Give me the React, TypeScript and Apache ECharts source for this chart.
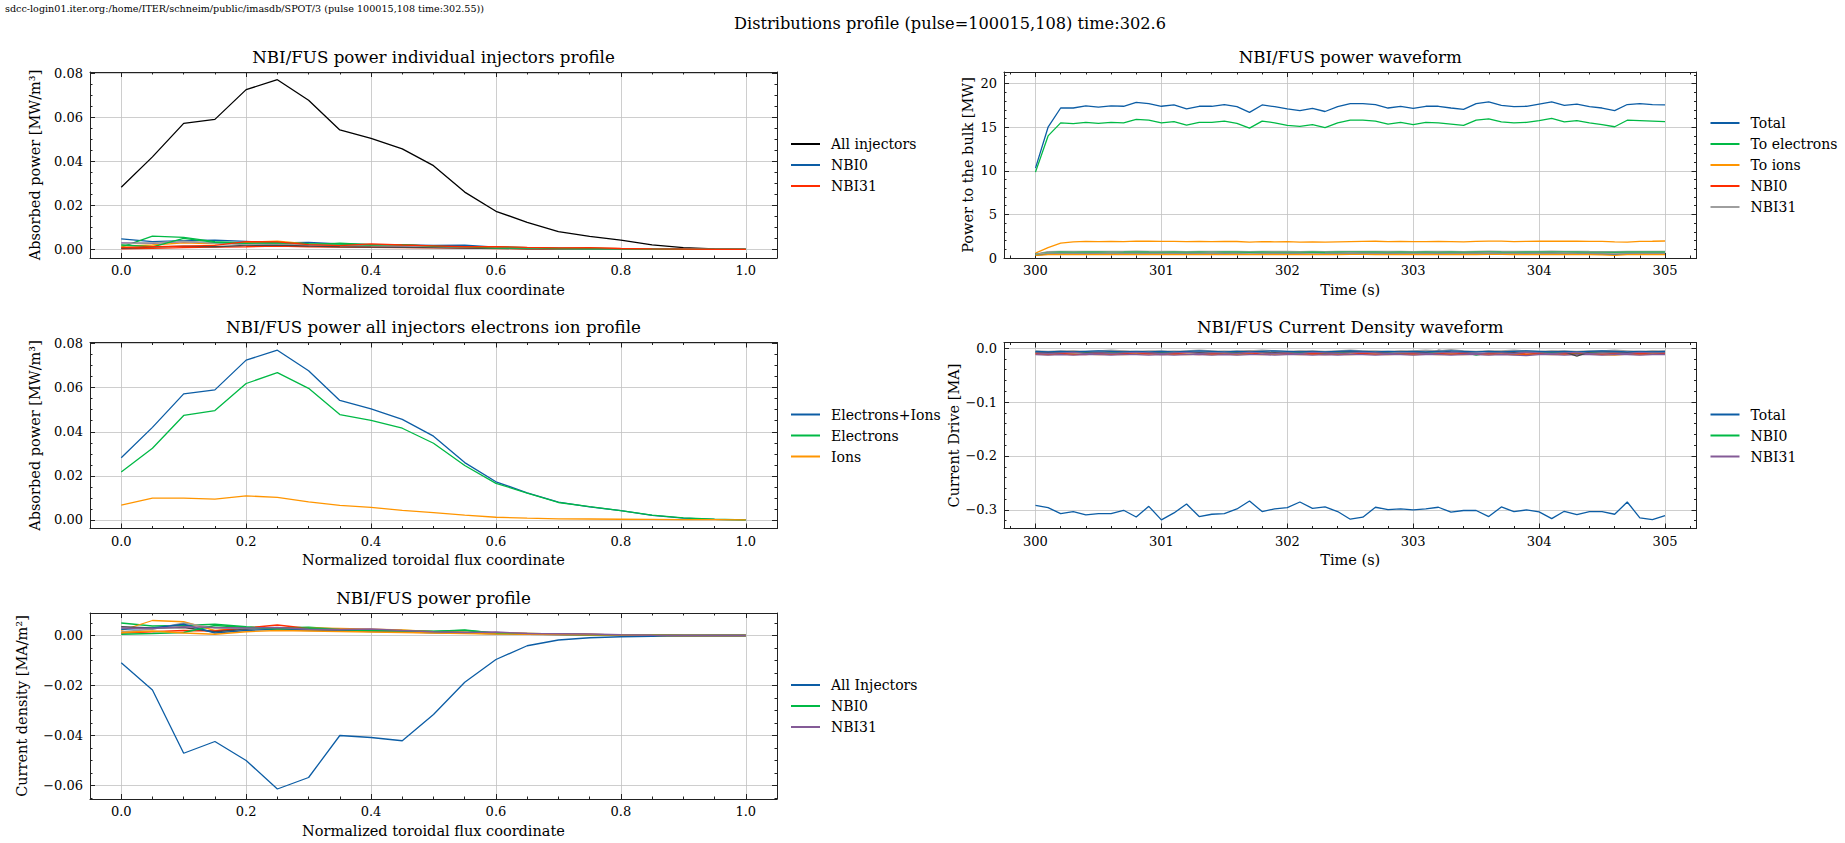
import React, { useEffect, useRef } from "react";
import * as echarts from "echarts";

const FONT = "DejaVu Serif";
const C = ["#0C5DA5", "#00B945", "#FF9500", "#FF2C00", "#845B97", "#474747", "#9e9e9e"];

// ---------- categories / coordinates ----------
const rho = [0, 0.05, 0.1, 0.15, 0.2, 0.25, 0.3, 0.35, 0.4, 0.45, 0.5, 0.55, 0.6, 0.65, 0.7, 0.75, 0.8, 0.85, 0.9, 0.95, 1.0];
const time = [
  300.0, 300.1, 300.2, 300.3, 300.4, 300.5, 300.6, 300.7, 300.8, 300.9,
  301.0, 301.1, 301.2, 301.3, 301.4, 301.5, 301.6, 301.7, 301.8, 301.9,
  302.0, 302.1, 302.2, 302.3, 302.4, 302.5, 302.6, 302.7, 302.8, 302.9,
  303.0, 303.1, 303.2, 303.3, 303.4, 303.5, 303.6, 303.7, 303.8, 303.9,
  304.0, 304.1, 304.2, 304.3, 304.4, 304.5, 304.6, 304.7, 304.8, 304.9,
  305.0,
];

// ---------- profiles (vs rho) ----------
const allInjPower = [0.0282, 0.0420, 0.0572, 0.0590, 0.0725, 0.0770, 0.0677, 0.0542, 0.0504, 0.0456, 0.0380, 0.0260, 0.0173, 0.0123, 0.0081, 0.0059, 0.0042, 0.0021, 0.0008, 0.0002, 0.0000];
const electronsPower = [0.0217, 0.0325, 0.0474, 0.0496, 0.0619, 0.0668, 0.0597, 0.0478, 0.0452, 0.0416, 0.0348, 0.0247, 0.0166, 0.0122, 0.0079, 0.0060, 0.0042, 0.0022, 0.0009, 0.0003, 0.0000];
const ionsPower = [0.0067, 0.0099, 0.0099, 0.0094, 0.0109, 0.0102, 0.0082, 0.0066, 0.0057, 0.0043, 0.0033, 0.0022, 0.0012, 0.0008, 0.0005, 0.0004, 0.0003, 0.0002, 0.0001, 0.0001, 0.0000];
const allInjCurrent = [-0.0109, -0.0218, -0.0471, -0.0424, -0.0500, -0.0614, -0.0568, -0.0400, -0.0408, -0.0421, -0.0316, -0.0187, -0.0096, -0.0041, -0.0018, -0.0009, -0.0005, -0.0003, -0.0001, 0.0000, 0.0000];

// individual injectors, absorbed power profile
const pInj0 = [0.0048, 0.0035, 0.0040, 0.0042, 0.0036, 0.0030, 0.0032, 0.0025, 0.0022, 0.0021, 0.0018, 0.0019, 0.0010, 0.0008, 0.0005, 0.0004, 0.0003, 0.0002, 0.0001, 0.0000, 0.0000];
const pInj1 = [0.0010, 0.0060, 0.0055, 0.0035, 0.0030, 0.0028, 0.0020, 0.0028, 0.0022, 0.0020, 0.0015, 0.0010, 0.0012, 0.0008, 0.0006, 0.0004, 0.0002, 0.0001, 0.0001, 0.0000, 0.0000];
const pInj2 = [0.0015, 0.0020, 0.0030, 0.0025, 0.0032, 0.0038, 0.0025, 0.0018, 0.0015, 0.0012, 0.0010, 0.0008, 0.0006, 0.0004, 0.0003, 0.0006, 0.0003, 0.0001, 0.0000, 0.0000, 0.0000];
const pInj3 = [0.0002, 0.0005, 0.0008, 0.0010, 0.0012, 0.0015, 0.0012, 0.0010, 0.0009, 0.0008, 0.0007, 0.0006, 0.0004, 0.0003, 0.0002, 0.0002, 0.0001, 0.0001, 0.0000, 0.0000, 0.0000];
const pInj4 = [0.0030, 0.0028, 0.0035, 0.0030, 0.0025, 0.0022, 0.0020, 0.0018, 0.0016, 0.0014, 0.0012, 0.0010, 0.0007, 0.0005, 0.0004, 0.0003, 0.0002, 0.0001, 0.0001, 0.0000, 0.0000];
const pInj5 = [0.0005, 0.0010, 0.0015, 0.0012, 0.0018, 0.0020, 0.0015, 0.0012, 0.0010, 0.0009, 0.0008, 0.0006, 0.0005, 0.0003, 0.0002, 0.0002, 0.0001, 0.0001, 0.0000, 0.0000, 0.0000];
const pInj6 = [0.0025, 0.0030, 0.0038, 0.0028, 0.0022, 0.0025, 0.0022, 0.0020, 0.0018, 0.0016, 0.0013, 0.0011, 0.0008, 0.0006, 0.0004, 0.0003, 0.0002, 0.0001, 0.0000, 0.0000, 0.0000];
const pInj8 = [0.0020, 0.0012, 0.0050, 0.0032, 0.0028, 0.0030, 0.0026, 0.0024, 0.0020, 0.0022, 0.0014, 0.0012, 0.0006, 0.0007, 0.0004, 0.0003, 0.0002, 0.0001, 0.0000, 0.0000, 0.0000];
const pInj31 = [0.0008, 0.0012, 0.0015, 0.0018, 0.0035, 0.0034, 0.0022, 0.0017, 0.0025, 0.0020, 0.0016, 0.0012, 0.0013, 0.0009, 0.0007, 0.0008, 0.0004, 0.0002, 0.0001, 0.0000, 0.0000];

// individual injectors, current density profile
const jInj0 = [0.0050, 0.0038, 0.0040, 0.0045, 0.0035, 0.0030, 0.0033, 0.0025, 0.0022, 0.0020, 0.0017, 0.0020, 0.0010, 0.0008, 0.0006, 0.0004, 0.0002, 0.0001, 0.0000, 0.0000, 0.0000];
const jInj1 = [0.0020, 0.0060, 0.0055, 0.0020, 0.0030, 0.0028, 0.0030, 0.0028, 0.0025, 0.0022, 0.0015, 0.0012, 0.0009, 0.0007, 0.0005, 0.0004, 0.0002, 0.0001, 0.0000, 0.0000, 0.0000];
const jInj2 = [0.0010, 0.0015, 0.0020, 0.0018, 0.0030, 0.0042, 0.0028, 0.0022, 0.0018, 0.0016, 0.0014, 0.0012, 0.0010, 0.0008, 0.0006, 0.0004, 0.0002, 0.0001, 0.0000, 0.0000, 0.0000];
const jInj4 = [0.0035, 0.0030, 0.0032, 0.0015, 0.0025, 0.0030, 0.0025, 0.0020, 0.0018, 0.0015, 0.0012, 0.0010, 0.0008, 0.0006, 0.0004, 0.0003, 0.0002, 0.0001, 0.0000, 0.0000, 0.0000];
const jInj5 = [0.0015, 0.0025, 0.0050, 0.0030, 0.0028, 0.0024, 0.0020, 0.0018, 0.0020, 0.0014, 0.0011, 0.0009, 0.0012, 0.0006, 0.0005, 0.0003, 0.0002, 0.0001, 0.0000, 0.0000, 0.0000];
const jInj6 = [0.0025, 0.0030, 0.0045, 0.0010, 0.0020, 0.0025, 0.0022, 0.0020, 0.0016, 0.0014, 0.0012, 0.0010, 0.0007, 0.0005, 0.0004, 0.0003, 0.0002, 0.0001, 0.0000, 0.0000, 0.0000];
const jInj7 = [0.0005, 0.0008, 0.0012, 0.0040, 0.0032, 0.0026, 0.0030, 0.0024, 0.0020, 0.0018, 0.0016, 0.0022, 0.0009, 0.0006, 0.0005, 0.0003, 0.0002, 0.0001, 0.0000, 0.0000, 0.0000];
const jInj8 = [0.0012, 0.0018, 0.0010, 0.0005, 0.0015, 0.0020, 0.0018, 0.0016, 0.0014, 0.0012, 0.0010, 0.0008, 0.0006, 0.0005, 0.0004, 0.0003, 0.0002, 0.0001, 0.0000, 0.0000, 0.0000];
const jInj31 = [0.0030, 0.0028, 0.0035, 0.0032, 0.0030, 0.0032, 0.0025, 0.0024, 0.0026, 0.0020, 0.0015, 0.0012, 0.0014, 0.0008, 0.0007, 0.0006, 0.0003, 0.0001, 0.0000, 0.0000, 0.0000];

// ---------- waveforms (vs time) ----------
const totalPower = [
  10.3, 15.0, 17.2, 17.2, 17.45, 17.3, 17.45, 17.4, 17.85, 17.7,
  17.4, 17.55, 17.1, 17.4, 17.4, 17.6, 17.35, 16.7, 17.55, 17.35,
  17.1, 16.9, 17.15, 16.8, 17.35, 17.7, 17.7, 17.6, 17.2, 17.4,
  17.15, 17.4, 17.4, 17.2, 17.05, 17.7, 17.9, 17.5, 17.35, 17.4,
  17.65, 17.9, 17.5, 17.65, 17.35, 17.2, 16.9, 17.6, 17.7, 17.6,
  17.55,
];
const toElectrons = [
  9.85, 14.0, 15.5, 15.4, 15.55, 15.45, 15.55, 15.5, 15.9, 15.8,
  15.5, 15.65, 15.25, 15.55, 15.55, 15.7, 15.45, 14.9, 15.7, 15.5,
  15.2, 15.1, 15.3, 14.95, 15.5, 15.8, 15.8, 15.7, 15.35, 15.55,
  15.3, 15.55, 15.5, 15.35, 15.2, 15.8, 15.95, 15.6, 15.5, 15.55,
  15.75, 16.0, 15.6, 15.75, 15.5, 15.3, 15.05, 15.8, 15.75, 15.7,
  15.65,
];
const toIons = [
  0.55, 1.2, 1.7, 1.85, 1.9, 1.88, 1.9, 1.88, 1.93, 1.92,
  1.9, 1.91, 1.88, 1.9, 1.88, 1.9, 1.89, 1.82, 1.87, 1.86,
  1.87, 1.83, 1.85, 1.82, 1.86, 1.88, 1.9, 1.92, 1.88, 1.9,
  1.87, 1.88, 1.9, 1.88, 1.86, 1.9, 1.94, 1.93, 1.88, 1.9,
  1.92, 1.93, 1.92, 1.93, 1.9, 1.9, 1.85, 1.82, 1.9, 1.92,
  1.95,
];
const pwNBI0 = [
  0.42, 0.66, 0.71, 0.70, 0.72, 0.70, 0.71, 0.70, 0.73, 0.72,
  0.70, 0.71, 0.69, 0.71, 0.70, 0.72, 0.70, 0.67, 0.71, 0.70,
  0.69, 0.68, 0.70, 0.67, 0.71, 0.72, 0.72, 0.71, 0.69, 0.70,
  0.69, 0.70, 0.70, 0.69, 0.68, 0.72, 0.73, 0.71, 0.70, 0.70,
  0.72, 0.73, 0.71, 0.72, 0.70, 0.69, 0.67, 0.71, 0.72, 0.71,
  0.71,
];
const pwNBI1 = [
  0.35, 0.55, 0.60, 0.61, 0.59, 0.62, 0.60, 0.61, 0.62, 0.60,
  0.61, 0.59, 0.60, 0.62, 0.61, 0.60, 0.59, 0.58, 0.61, 0.60,
  0.60, 0.59, 0.61, 0.58, 0.60, 0.62, 0.61, 0.60, 0.61, 0.59,
  0.60, 0.61, 0.59, 0.60, 0.60, 0.61, 0.62, 0.60, 0.61, 0.59,
  0.60, 0.62, 0.61, 0.60, 0.61, 0.60, 0.58, 0.61, 0.60, 0.62,
  0.61,
];
const pwNBI2 = [
  0.30, 0.48, 0.52, 0.53, 0.51, 0.52, 0.54, 0.52, 0.53, 0.51,
  0.52, 0.53, 0.51, 0.52, 0.53, 0.52, 0.51, 0.50, 0.53, 0.52,
  0.51, 0.52, 0.50, 0.51, 0.52, 0.53, 0.54, 0.52, 0.51, 0.52,
  0.53, 0.51, 0.52, 0.52, 0.50, 0.53, 0.52, 0.54, 0.52, 0.51,
  0.53, 0.52, 0.54, 0.52, 0.51, 0.52, 0.50, 0.53, 0.52, 0.53,
  0.52,
];
const pwNBI3 = [
  0.45, 0.72, 0.76, 0.75, 0.77, 0.76, 0.75, 0.76, 0.78, 0.77,
  0.75, 0.76, 0.74, 0.76, 0.75, 0.77, 0.76, 0.73, 0.76, 0.75,
  0.75, 0.74, 0.76, 0.73, 0.76, 0.77, 0.77, 0.76, 0.75, 0.76,
  0.74, 0.76, 0.75, 0.76, 0.74, 0.77, 0.78, 0.76, 0.75, 0.76,
  0.77, 0.78, 0.76, 0.77, 0.75, 0.74, 0.73, 0.76, 0.77, 0.76,
  0.76,
];
const pwNBI4 = [
  0.38, 0.42, 0.45, 0.46, 0.44, 0.45, 0.47, 0.45, 0.46, 0.44,
  0.45, 0.46, 0.44, 0.45, 0.47, 0.45, 0.44, 0.43, 0.46, 0.45,
  0.44, 0.45, 0.43, 0.44, 0.46, 0.47, 0.45, 0.46, 0.44, 0.45,
  0.46, 0.44, 0.45, 0.46, 0.44, 0.45, 0.47, 0.46, 0.45, 0.44,
  0.46, 0.45, 0.47, 0.45, 0.44, 0.45, 0.44, 0.46, 0.45, 0.46,
  0.45,
];
const pwNBI5 = [
  0.40, 0.62, 0.66, 0.65, 0.67, 0.66, 0.65, 0.66, 0.68, 0.66,
  0.65, 0.66, 0.64, 0.66, 0.65, 0.67, 0.66, 0.63, 0.66, 0.65,
  0.65, 0.64, 0.66, 0.63, 0.66, 0.67, 0.67, 0.66, 0.65, 0.66,
  0.64, 0.66, 0.65, 0.66, 0.64, 0.67, 0.68, 0.66, 0.65, 0.66,
  0.67, 0.68, 0.66, 0.67, 0.65, 0.64, 0.63, 0.66, 0.67, 0.66,
  0.66,
];
const pwNBI6 = [
  0.30, 0.38, 0.40, 0.41, 0.39, 0.40, 0.41, 0.40, 0.42, 0.40,
  0.41, 0.40, 0.39, 0.41, 0.40, 0.38, 0.40, 0.39, 0.41, 0.40,
  0.39, 0.40, 0.41, 0.39, 0.40, 0.42, 0.41, 0.40, 0.39, 0.40,
  0.41, 0.40, 0.39, 0.41, 0.40, 0.40, 0.42, 0.41, 0.40, 0.39,
  0.41, 0.40, 0.42, 0.40, 0.39, 0.35, 0.30, 0.38, 0.40, 0.41,
  0.40,
];
const pwNBI31 = [
  0.45, 0.58, 0.56, 0.57, 0.55, 0.56, 0.58, 0.56, 0.57, 0.55,
  0.56, 0.57, 0.55, 0.56, 0.58, 0.56, 0.55, 0.54, 0.57, 0.56,
  0.55, 0.56, 0.54, 0.55, 0.57, 0.58, 0.56, 0.57, 0.55, 0.56,
  0.57, 0.55, 0.56, 0.57, 0.55, 0.56, 0.58, 0.57, 0.56, 0.55,
  0.57, 0.56, 0.58, 0.56, 0.55, 0.56, 0.54, 0.57, 0.56, 0.57,
  0.56,
];

const currentTotal = [
  -0.2914, -0.2957, -0.3067, -0.3030, -0.3090, -0.3070, -0.3067, -0.3006, -0.3130, -0.2933,
  -0.3184, -0.3055, -0.2890, -0.3123, -0.3080, -0.3067, -0.2982, -0.2834, -0.3030, -0.2980,
  -0.2957, -0.2853, -0.2970, -0.2945, -0.3030, -0.3172, -0.3135, -0.2950, -0.2994, -0.2980,
  -0.3000, -0.2980, -0.2950, -0.3040, -0.3010, -0.3010, -0.3123, -0.2945, -0.3030, -0.3000,
  -0.3037, -0.3160, -0.3025, -0.3086, -0.3030, -0.3030, -0.3080, -0.2853, -0.3147, -0.3178,
  -0.3104,
];
const cdNBI0 = [
  -0.008, -0.009, -0.008, -0.009, -0.008, -0.010, -0.009, -0.008, -0.009, -0.010,
  -0.008, -0.009, -0.008, -0.009, -0.010, -0.009, -0.008, -0.009, -0.008, -0.010,
  -0.009, -0.008, -0.009, -0.010, -0.009, -0.008, -0.009, -0.008, -0.009, -0.010,
  -0.009, -0.008, -0.009, -0.009, -0.008, -0.013, -0.009, -0.008, -0.009, -0.013,
  -0.009, -0.008, -0.009, -0.010, -0.008, -0.009, -0.008, -0.009, -0.010, -0.009,
  -0.009,
];
const cdNBI1 = [
  -0.011, -0.012, -0.011, -0.012, -0.011, -0.012, -0.011, -0.012, -0.011, -0.010,
  -0.012, -0.011, -0.012, -0.011, -0.012, -0.011, -0.012, -0.011, -0.012, -0.011,
  -0.011, -0.012, -0.011, -0.012, -0.011, -0.012, -0.011, -0.011, -0.012, -0.011,
  -0.012, -0.011, -0.012, -0.011, -0.012, -0.011, -0.012, -0.011, -0.012, -0.011,
  -0.011, -0.012, -0.011, -0.012, -0.011, -0.012, -0.013, -0.011, -0.012, -0.011,
  -0.011,
];
const cdNBI2 = [
  -0.010, -0.011, -0.010, -0.011, -0.012, -0.010, -0.011, -0.010, -0.011, -0.010,
  -0.011, -0.010, -0.011, -0.012, -0.010, -0.011, -0.010, -0.009, -0.011, -0.010,
  -0.010, -0.011, -0.010, -0.011, -0.010, -0.011, -0.010, -0.011, -0.010, -0.011,
  -0.010, -0.011, -0.010, -0.011, -0.010, -0.011, -0.010, -0.011, -0.010, -0.011,
  -0.010, -0.011, -0.010, -0.011, -0.010, -0.011, -0.010, -0.011, -0.010, -0.011,
  -0.010,
];
const cdNBI3 = [
  -0.012, -0.013, -0.012, -0.013, -0.012, -0.012, -0.013, -0.012, -0.012, -0.013,
  -0.012, -0.013, -0.012, -0.012, -0.013, -0.012, -0.013, -0.012, -0.012, -0.013,
  -0.012, -0.012, -0.013, -0.012, -0.013, -0.012, -0.012, -0.013, -0.012, -0.012,
  -0.013, -0.012, -0.012, -0.013, -0.012, -0.012, -0.013, -0.012, -0.013, -0.014,
  -0.012, -0.012, -0.013, -0.012, -0.012, -0.013, -0.012, -0.012, -0.013, -0.012,
  -0.012,
];
const cdNBI4 = [
  -0.007, -0.008, -0.007, -0.006, -0.007, -0.008, -0.007, -0.006, -0.007, -0.008,
  -0.007, -0.006, -0.007, -0.008, -0.007, -0.006, -0.007, -0.005, -0.007, -0.008,
  -0.007, -0.006, -0.007, -0.008, -0.007, -0.006, -0.007, -0.008, -0.007, -0.006,
  -0.007, -0.008, -0.004, -0.007, -0.008, -0.007, -0.006, -0.007, -0.008, -0.007,
  -0.007, -0.006, -0.007, -0.015, -0.007, -0.006, -0.007, -0.008, -0.007, -0.006,
  -0.007,
];
const cdNBI5 = [
  -0.005, -0.006, -0.005, -0.005, -0.006, -0.005, -0.004, -0.005, -0.006, -0.005,
  -0.005, -0.006, -0.005, -0.004, -0.005, -0.006, -0.005, -0.005, -0.004, -0.005,
  -0.006, -0.005, -0.005, -0.006, -0.005, -0.004, -0.005, -0.005, -0.006, -0.005,
  -0.005, -0.004, -0.005, -0.003, -0.005, -0.006, -0.005, -0.005, -0.004, -0.005,
  -0.006, -0.005, -0.005, -0.006, -0.005, -0.005, -0.004, -0.005, -0.006, -0.005,
  -0.005,
];
const cdNBI6 = [
  -0.006, -0.007, -0.006, -0.007, -0.006, -0.005, -0.006, -0.007, -0.006, -0.007,
  -0.006, -0.007, -0.006, -0.005, -0.006, -0.007, -0.006, -0.007, -0.006, -0.005,
  -0.006, -0.007, -0.006, -0.007, -0.006, -0.005, -0.006, -0.007, -0.006, -0.007,
  -0.006, -0.007, -0.006, -0.005, -0.006, -0.007, -0.006, -0.007, -0.006, -0.005,
  -0.006, -0.007, -0.006, -0.007, -0.006, -0.005, -0.006, -0.007, -0.006, -0.007,
  -0.006,
];
const cdNBI31 = [
  -0.009, -0.010, -0.009, -0.008, -0.010, -0.009, -0.010, -0.009, -0.008, -0.009,
  -0.010, -0.009, -0.008, -0.010, -0.009, -0.009, -0.010, -0.008, -0.009, -0.010,
  -0.009, -0.010, -0.008, -0.009, -0.010, -0.009, -0.008, -0.009, -0.010, -0.009,
  -0.009, -0.010, -0.009, -0.008, -0.009, -0.010, -0.009, -0.009, -0.010, -0.008,
  -0.009, -0.010, -0.009, -0.008, -0.010, -0.009, -0.009, -0.010, -0.008, -0.009,
  -0.009,
];

// ---------- tick labels ----------
const rhoTicks = [0, 0.2, 0.4, 0.6, 0.8, 1.0];
const timeTicks = [300, 301, 302, 303, 304, 305];
const powerProfileTicks = [0, 0.02, 0.04, 0.06, 0.08];
const powerWaveTicks = [0, 5, 10, 15, 20];
const currentWaveTicks = [-0.3, -0.2, -0.1, 0];
const currentProfileTicks = [-0.06, -0.04, -0.02, 0];

// ---------- layout ----------
const GRIDS = [
  { left: 90, top: 72, width: 687, height: 186 },
  { left: 1004, top: 72, width: 692.5, height: 186 },
  { left: 90, top: 342.5, width: 687, height: 186 },
  { left: 1004, top: 342.5, width: 692.5, height: 186 },
  { left: 90, top: 613, width: 687, height: 186 },
];

function steps(from: number, to: number, step: number) {
  const out: number[] = [];
  const n = Math.round((to - from) / step);
  for (let k = 0; k <= n; k++) out.push(Math.round((from + k * step) * 1e6) / 1e6);
  return out;
}
const fmt = (d: number) => (v: number) => {
  const s = Number(v).toFixed(d);
  return s.startsWith("-") && Number(s) !== 0 ? "\u2212" + s.slice(1) : s.replace("-", "");
};

const AX = "#222";
const GRIDC = "#c2c2c2";

type AxCfg = {
  min: number; max: number; split: number; majors: number[]; minors: number[];
  dec: number; name: string; gap: number;
};

const rhoAxis: AxCfg = { min: -0.05, max: 1.05, split: 5, majors: rhoTicks, minors: steps(-0.05, 1.05, 0.05), dec: 1, name: "Normalized toroidal flux coordinate", gap: 24 };
const timeAxis: AxCfg = { min: 299.75, max: 305.25, split: 5, majors: timeTicks, minors: steps(299.8, 305.2, 0.2), dec: 0, name: "Time (s)", gap: 24 };

const PANELS: { x: AxCfg; y: AxCfg }[] = [
  { x: rhoAxis, y: { min: -0.0039, max: 0.0805, split: 5, majors: powerProfileTicks, minors: steps(0, 0.08, 0.005), dec: 2, name: "Absorbed power [MW/m\u00b3]", gap: 48 } },
  { x: timeAxis, y: { min: 0, max: 21.33, split: 5, majors: powerWaveTicks, minors: steps(0, 21, 1), dec: 0, name: "Power to the bulk [MW]", gap: 29 } },
  { x: rhoAxis, y: { min: -0.0039, max: 0.0805, split: 5, majors: powerProfileTicks, minors: steps(0, 0.08, 0.005), dec: 2, name: "Absorbed power [MW/m\u00b3]", gap: 48 } },
  { x: timeAxis, y: { min: -0.3344, max: 0.0104, split: 3, majors: currentWaveTicks, minors: steps(-0.32, 0, 0.02), dec: 1, name: "Current Drive [MA]", gap: 40 } },
  { x: rhoAxis, y: { min: -0.0654, max: 0.009, split: 4, majors: currentProfileTicks, minors: steps(-0.065, 0.005, 0.005), dec: 2, name: "Current density [MA/m\u00b2]", gap: 61 } },
];

const TITLES = [
  "NBI/FUS power individual injectors profile",
  "NBI/FUS power waveform",
  "NBI/FUS power all injectors electrons ion profile",
  "NBI/FUS Current Density waveform",
  "NBI/FUS power profile",
];

const LEGENDS: { label: string; color: string }[][] = [
  [{ label: "All injectors", color: "#000000" }, { label: "NBI0", color: C[0] }, { label: "NBI31", color: C[3] }],
  [{ label: "Total", color: C[0] }, { label: "To electrons", color: C[1] }, { label: "To ions", color: C[2] }, { label: "NBI0", color: C[3] }, { label: "NBI31", color: C[6] }],
  [{ label: "Electrons+Ions", color: C[0] }, { label: "Electrons", color: C[1] }, { label: "Ions", color: C[2] }],
  [{ label: "Total", color: C[0] }, { label: "NBI0", color: C[1] }, { label: "NBI31", color: C[4] }],
  [{ label: "All Injectors", color: C[0] }, { label: "NBI0", color: C[1] }, { label: "NBI31", color: C[4] }],
];

function buildAxes(kind: "x" | "y", gi: number, c: AxCfg) {
  const mainPos = kind === "x" ? "bottom" : "left";
  const oppPos = kind === "x" ? "top" : "right";
  const common = { type: "value", gridIndex: gi, min: c.min, max: c.max, splitNumber: c.split };
  const tickLine = { color: AX, width: 1 };
  return [
    {
      ...common,
      position: mainPos,
      axisLine: { show: true, onZero: false, lineStyle: { color: AX, width: 1 } },
      axisTick: { show: true, inside: true, length: 5, customValues: c.majors, lineStyle: tickLine },
      axisLabel: {
        show: true, customValues: c.majors, formatter: fmt(c.dec), color: "#000",
        fontFamily: FONT, fontSize: 13, margin: kind === "x" ? 6 : 7,
      },
      splitLine: { show: true, lineStyle: { color: GRIDC, width: 0.8 } },
      name: c.name, nameLocation: "middle", nameGap: c.gap,
      nameTextStyle: { fontFamily: FONT, fontSize: 14.5, color: "#000" },
    },
    {
      ...common, position: mainPos,
      axisLine: { show: false, onZero: false },
      axisTick: { show: true, inside: true, length: 2.5, customValues: c.minors, lineStyle: tickLine },
      axisLabel: { show: false }, splitLine: { show: false },
    },
    {
      ...common, position: oppPos,
      axisLine: { show: true, onZero: false, lineStyle: { color: AX, width: 1 } },
      axisTick: { show: true, inside: true, length: 5, customValues: c.majors, lineStyle: tickLine },
      axisLabel: { show: false }, splitLine: { show: false },
    },
    {
      ...common, position: oppPos,
      axisLine: { show: false, onZero: false },
      axisTick: { show: true, inside: true, length: 2.5, customValues: c.minors, lineStyle: tickLine },
      axisLabel: { show: false }, splitLine: { show: false },
    },
  ];
}

function line(name: string, gi: number, xs: number[], ys: number[], color: string, width = 1.3) {
  return {
    type: "line", name, xAxisIndex: gi * 4, yAxisIndex: gi * 4,
    data: xs.map((x, i) => [x, ys[i]]),
    showSymbol: false, symbol: "none", silent: true,
    lineStyle: { color, width }, itemStyle: { color },
  };
}

function buildOption() {
  const xAxis: any[] = [];
  const yAxis: any[] = [];
  PANELS.forEach((p, gi) => {
    xAxis.push(...buildAxes("x", gi, p.x));
    yAxis.push(...buildAxes("y", gi, p.y));
  });

  const series: any[] = [
    // panel 0
    line("All injectors", 0, rho, allInjPower, "#000000"),
    line("NBI0", 0, rho, pInj0, C[0]),
    line("NBI1", 0, rho, pInj1, C[1]),
    line("NBI2", 0, rho, pInj2, C[2]),
    line("NBI3", 0, rho, pInj3, C[3]),
    line("NBI4", 0, rho, pInj4, C[4]),
    line("NBI5", 0, rho, pInj5, C[5]),
    line("NBI6", 0, rho, pInj6, C[6]),
    line("NBI8", 0, rho, pInj8, C[1]),
    line("NBI31", 0, rho, pInj31, C[3]),
    // panel 1
    line("Total", 1, time, totalPower, C[0]),
    line("To electrons", 1, time, toElectrons, C[1]),
    line("To ions", 1, time, toIons, C[2]),
    line("NBI0", 1, time, pwNBI0, C[3]),
    line("NBI1", 1, time, pwNBI1, C[4]),
    line("NBI2", 1, time, pwNBI2, C[5]),
    line("NBI3", 1, time, pwNBI3, C[6]),
    line("NBI4", 1, time, pwNBI4, C[0]),
    line("NBI5", 1, time, pwNBI5, C[1]),
    line("NBI6", 1, time, pwNBI6, C[2]),
    line("NBI31", 1, time, pwNBI31, C[6]),
    // panel 2
    line("Electrons+Ions", 2, rho, allInjPower, C[0]),
    line("Electrons", 2, rho, electronsPower, C[1]),
    line("Ions", 2, rho, ionsPower, C[2]),
    // panel 3
    line("Total", 3, time, currentTotal, C[0]),
    line("NBI0", 3, time, cdNBI0, C[1]),
    line("NBI1", 3, time, cdNBI1, C[2]),
    line("NBI2", 3, time, cdNBI2, C[3]),
    line("NBI3", 3, time, cdNBI3, C[4]),
    line("NBI4", 3, time, cdNBI4, C[5]),
    line("NBI5", 3, time, cdNBI5, C[6]),
    line("NBI6", 3, time, cdNBI6, C[0]),
    line("NBI31", 3, time, cdNBI31, C[4]),
    // panel 4
    line("All Injectors", 4, rho, allInjCurrent, C[0]),
    line("NBI0", 4, rho, jInj0, C[1]),
    line("NBI1", 4, rho, jInj1, C[2]),
    line("NBI2", 4, rho, jInj2, C[3]),
    line("NBI4", 4, rho, jInj4, C[5]),
    line("NBI5", 4, rho, jInj5, C[6]),
    line("NBI6", 4, rho, jInj6, C[0]),
    line("NBI7", 4, rho, jInj7, C[1]),
    line("NBI8", 4, rho, jInj8, C[2]),
    line("NBI31", 4, rho, jInj31, C[4]),
  ];

  const graphic: any[] = [
    {
      type: "text", x: 5, y: 8,
      style: {
        text: "sdcc-login01.iter.org:/home/ITER/schneim/public/imasdb/SPOT/3 (pulse 100015,108 time:302.55))",
        fontFamily: FONT, fontSize: 9.6, fill: "#000", align: "left", verticalAlign: "middle",
      },
    },
    {
      type: "text", x: 950, y: 23.5,
      style: {
        text: "Distributions profile (pulse=100015,108) time:302.6",
        fontFamily: FONT, fontSize: 16.2, fill: "#000", align: "center", verticalAlign: "middle",
      },
    },
  ];
  GRIDS.forEach((g, gi) => {
    graphic.push({
      type: "text", x: g.left + g.width / 2, y: g.top - 15.5,
      style: { text: TITLES[gi], fontFamily: FONT, fontSize: 16.7, fill: "#000", align: "center", verticalAlign: "middle" },
    });
    const items = LEGENDS[gi];
    const cy = g.top + g.height / 2;
    const x0 = g.left + g.width + 14;
    items.forEach((it, k) => {
      const y = cy + (k - (items.length - 1) / 2) * 21;
      graphic.push({
        type: "line", shape: { x1: x0, y1: y, x2: x0 + 29, y2: y },
        style: { stroke: it.color, lineWidth: 2 },
      });
      graphic.push({
        type: "text", x: x0 + 40, y,
        style: { text: it.label, fontFamily: FONT, fontSize: 14, fill: "#000", align: "left", verticalAlign: "middle" },
      });
    });
  });

  return {
    animation: false,
    backgroundColor: "#ffffff",
    textStyle: { fontFamily: FONT },
    grid: GRIDS.map((g) => ({ ...g, containLabel: false, outerBoundsMode: "none" })),
    xAxis, yAxis, series, graphic,
  };
}

export default function App() {
  const ref = useRef<HTMLDivElement>(null);
  useEffect(() => {
    if (!ref.current) return;
    const chart = echarts.init(ref.current, null, { renderer: "svg" });
    chart.setOption(buildOption() as any);
    return () => chart.dispose();
  }, []);
  return (
    <div
      ref={ref}
      style={{ position: "absolute", left: 0, top: 0, width: 1845, height: 843, background: "#fff" }}
    />
  );
}
